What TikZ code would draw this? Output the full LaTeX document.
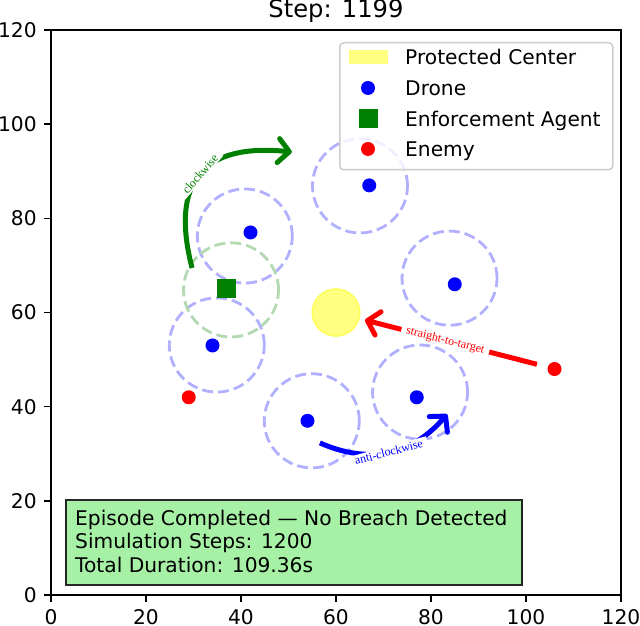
\documentclass[tikz,border=0pt]{standalone}
\usepackage{fontspec}
\setmainfont{DejaVu Sans}
\newfontfamily\lblfont{Liberation Serif}
\usetikzlibrary{arrows.meta}
\definecolor{dronering}{RGB}{176,176,255}
\definecolor{agentring}{RGB}{179,217,179}
\definecolor{mplgreen}{RGB}{0,128,0}
\definecolor{centerfill}{RGB}{255,255,128}
\definecolor{centeredge}{RGB}{255,255,90}
\definecolor{boxfill}{RGB}{166,241,166}
\definecolor{legedge}{RGB}{204,204,204}
\begin{document}
\begin{tikzpicture}[x=4.75pt,y=4.708pt,
  txt/.style={font=\fontsize{20.2}{24.2}\selectfont, inner sep=0pt},
  ringstyle/.style={draw=dronering, line width=2.8pt, dash pattern=on 11pt off 5pt},
  agringstyle/.style={draw=agentring, line width=2.8pt, dash pattern=on 11pt off 5pt},
  drone/.style={circle, fill=blue, inner sep=0pt, minimum size=14pt},
  enemy/.style={circle, fill=red, inner sep=0pt, minimum size=14pt},
  agent/.style={rectangle, fill=mplgreen, inner sep=0pt, minimum size=19pt},
  motion/.style={line width=5pt, -{Straight Barb[length=11pt,width=24pt,round]}},
  lbl/.style={font=\lblfont\fontsize{12}{14}\selectfont, fill=white, inner xsep=5pt, inner ysep=1.2pt},
  axtick/.style={line width=1.6pt}
]
\useasboundingbox (-51pt,-31pt) rectangle (589pt,595pt);

% protected center
\draw[draw=centeredge, fill=centerfill, line width=1.5pt] (60,60) circle [radius=5];

% drone rings
\draw[ringstyle] (40.8,76.25) circle [radius=10];
\draw[ringstyle] (65.05,86.9) circle [radius=10];
\draw[ringstyle] (83.9,67.3) circle [radius=10];
\draw[ringstyle] (34.9,53.1) circle [radius=10];
\draw[ringstyle] (77.7,43.1) circle [radius=10];
\draw[ringstyle] (54.9,37.0) circle [radius=10];
% agent ring
\draw[agringstyle] (37.9,64.8) circle [radius=10];

% drones
\node[drone] (d1) at (42,77) {};
\node[drone] (d2) at (67,87) {};
\node[drone] (d3) at (85,66) {};
\node[drone] (d4) at (34,53) {};
\node[drone] (d5) at (77,42) {};
\node[drone] (d6) at (54,37) {};
% agent
\node[agent] (ag) at (37,65) {};
% enemies
\node[enemy] (e1) at (106,48) {};
\node[enemy] (e2) at (29,42) {};

% annotations
\coordinate (gS) at (29.7,69.45);
\coordinate (gE) at (50.7,94.1);
\draw[motion, mplgreen] (gS) .. controls (25.0,87.8) and (32.0,96.03) .. (gE);
\node[lbl, text=mplgreen, rotate=49] (gL) at (31.4,89.4) {clockwise};

\coordinate (rS) at (102.3,49.0);
\coordinate (rE) at (66.1,58.4);
\draw[motion, red] (rS) -- (rE);
\node[lbl, text=red, rotate=-14.5] (rL) at (83,54) {straight-to-target};

\coordinate (bS) at (56.6,32.3);
\coordinate (bE) at (83.4,38.4);
\draw[motion, blue] (bS) .. controls (67.03,27.7) and (75.97,29.73) .. (bE);
\node[lbl, text=blue, rotate=15] (bL) at (71.1,30.4) {anti-clockwise};

% axes frame and ticks
\draw[line width=1.6pt] (0,0) rectangle (120,120);
\foreach \v in {0,20,...,120} {
  \draw[axtick] (\v,0) -- ++(0,-7.07pt);
  \draw[axtick] (0,\v) -- ++(-7.07pt,0);
  \node[txt, anchor=north] (xl\v) at ([yshift=-14.1pt]\v,0) {\v};
  \node[txt, anchor=east] (yl\v) at ([xshift=-14.1pt]0,\v) {\v};
}

% title
\node[font=\fontsize{24.2}{29}\selectfont, inner sep=0pt, anchor=base] (title) at (285pt,577pt) {Step: 1199};

% legend
\node[draw=legedge, fill=white, fill opacity=0.8, rounded corners=4pt, line width=1.5pt,
      minimum width=273pt, minimum height=127pt, inner sep=0pt, anchor=north west] (legend) at (288pt,553pt) {};
\node[fill=centerfill, minimum width=39pt, minimum height=13.6pt, inner sep=0pt] (legC) at (317pt,538pt) {};
\node[txt, anchor=base west] (legCt) at (354pt,530.5pt) {Protected Center};
\node[drone] (legD) at (317pt,507pt) {};
\node[txt, anchor=base west] (legDt) at (354pt,499.6pt) {Drone};
\node[agent] (legA) at (317pt,476pt) {};
\node[txt, anchor=base west] (legAt) at (354pt,468.6pt) {Enforcement Agent};
\node[enemy] (legE) at (317pt,446pt) {};
\node[txt, anchor=base west] (legEt) at (354pt,438.6pt) {Enemy};

% info box
\node[draw=black!85, fill=boxfill, line width=1.6pt, minimum width=456pt, minimum height=85pt,
      inner sep=0pt, anchor=north west] (info) at (14pt,96pt) {};
\node[txt, anchor=base west] (info1) at (24pt,69pt) {Episode Completed — No Breach Detected};
\node[txt, anchor=base west] (info2) at (24pt,46pt) {Simulation Steps: 1200};
\node[txt, anchor=base west] (info3) at (24pt,22.5pt) {Total Duration: 109.36s};
\end{tikzpicture}
\end{document}
